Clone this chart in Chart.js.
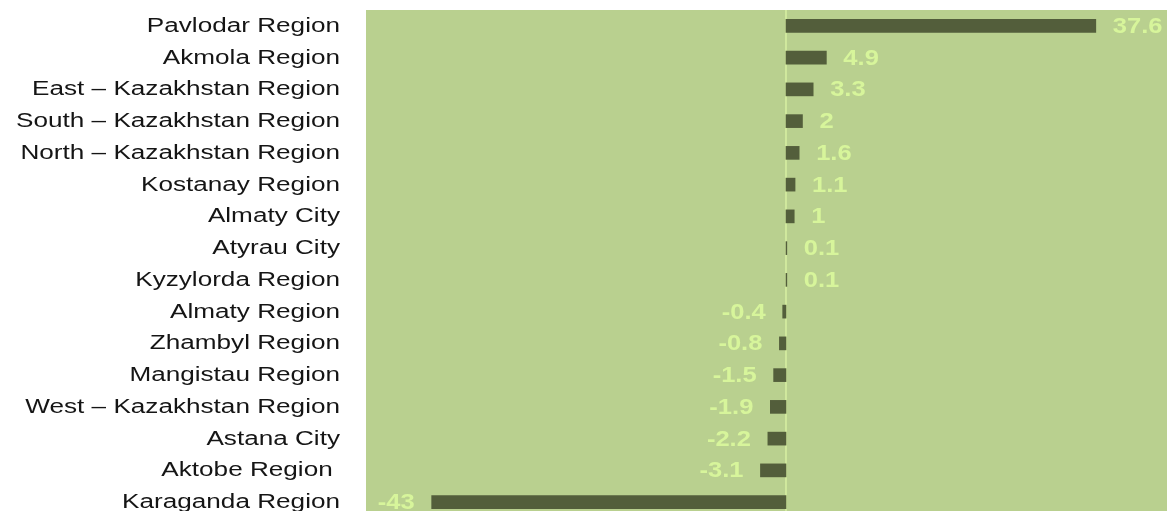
<!DOCTYPE html>
<html>
<head>
<meta charset="utf-8">
<script src="https://cdn.jsdelivr.net/npm/chart.js@4"></script>
<style>
  html, body { margin: 0; padding: 0; background: #fff; overflow: hidden; }
  #wrap { width: 1167px; height: 518px; position: relative; }
</style>
</head>
<body>
<div id="wrap"><canvas id="regionChart"></canvas></div>
<script>
const regions = [
    "Pavlodar Region", "Akmola Region", "East \u2013 Kazakhstan Region", "South \u2013 Kazakhstan Region",
    "North \u2013 Kazakhstan Region", "Kostanay Region", "Almaty City", "Atyrau City",
    "Kyzylorda Region", "Almaty Region", "Zhambyl Region", "Mangistau Region",
    "West \u2013 Kazakhstan Region", "Astana City", "Aktobe Region ", "Karaganda Region"
];
const values = [37.6, 4.9, 3.3, 2, 1.6, 1.1, 1, 0.1, 0.1, -0.4, -0.8, -1.5, -1.9, -2.2, -3.1, -43];

// plot background + zero line
const backdrop = {
    id: 'backdrop',
    beforeDatasetsDraw(chart) {
        const { ctx, chartArea: a, scales } = chart;
        ctx.save();
        ctx.fillStyle = '#b9d08f';
        ctx.fillRect(a.left, a.top, a.right - a.left, a.bottom - a.top);
        const x0 = scales.x.getPixelForValue(0);
        ctx.strokeStyle = '#d8f0a2';
        ctx.lineWidth = 1.5;
        ctx.beginPath();
        ctx.moveTo(x0, a.top);
        ctx.lineTo(x0, a.bottom);
        ctx.stroke();
        ctx.restore();
    }
};

// category names + value labels (text is stretched sideways in the original)
const labelsPlugin = {
    id: 'labelsPlugin',
    afterDatasetsDraw(chart) {
        const { ctx, scales } = chart;
        const meta = chart.getDatasetMeta(0);
        ctx.save();
        ctx.textBaseline = 'middle';
        chart.data.labels.forEach((name, i) => {
            const y = scales.y.getPixelForValue(i);
            ctx.save();
            ctx.translate(340, y + 0.5);
            ctx.scale(1.34, 1);
            ctx.textAlign = 'right';
            ctx.fillStyle = '#151515';
            ctx.font = '19.5px "Liberation Sans", Arial, sans-serif';
            ctx.fillText(name, 0, 0);
            ctx.restore();
        });
        meta.data.forEach((bar, i) => {
            const v = chart.data.datasets[0].data[i];
            const neg = v < 0;
            const x = neg ? bar.x - 17 : bar.x + 17;
            ctx.save();
            ctx.translate(x, bar.y + 1);
            ctx.scale(1.16, 1);
            ctx.textAlign = neg ? 'right' : 'left';
            ctx.fillStyle = '#d7f59b';
            ctx.font = 'bold 22px "Liberation Sans", Arial, sans-serif';
            ctx.fillText(String(v), 0, 0);
            ctx.restore();
        });
        ctx.restore();
    }
};

new Chart(document.getElementById('regionChart'), {
    type: 'bar',
    data: {
        labels: regions,
        datasets: [{
            data: values,
            backgroundColor: '#535e3b',
            borderWidth: 0,
            barThickness: 13
        }]
    },
    options: {
        indexAxis: 'y',
        responsive: true,
        maintainAspectRatio: false,
        animation: false,
        layout: { padding: { top: 10, right: 0, bottom: 0, left: 0 } },
        plugins: {
            legend: { display: false },
            tooltip: { enabled: false }
        },
        scales: {
            x: {
                display: false,
                min: -50.97,
                max: 46.24
            },
            y: {
                grid: { display: false, drawTicks: false },
                border: { display: false },
                ticks: { display: false },
                afterFit(scale) { scale.width = 366; }
            }
        }
    },
    plugins: [backdrop, labelsPlugin]
});
</script>
</body>
</html>
